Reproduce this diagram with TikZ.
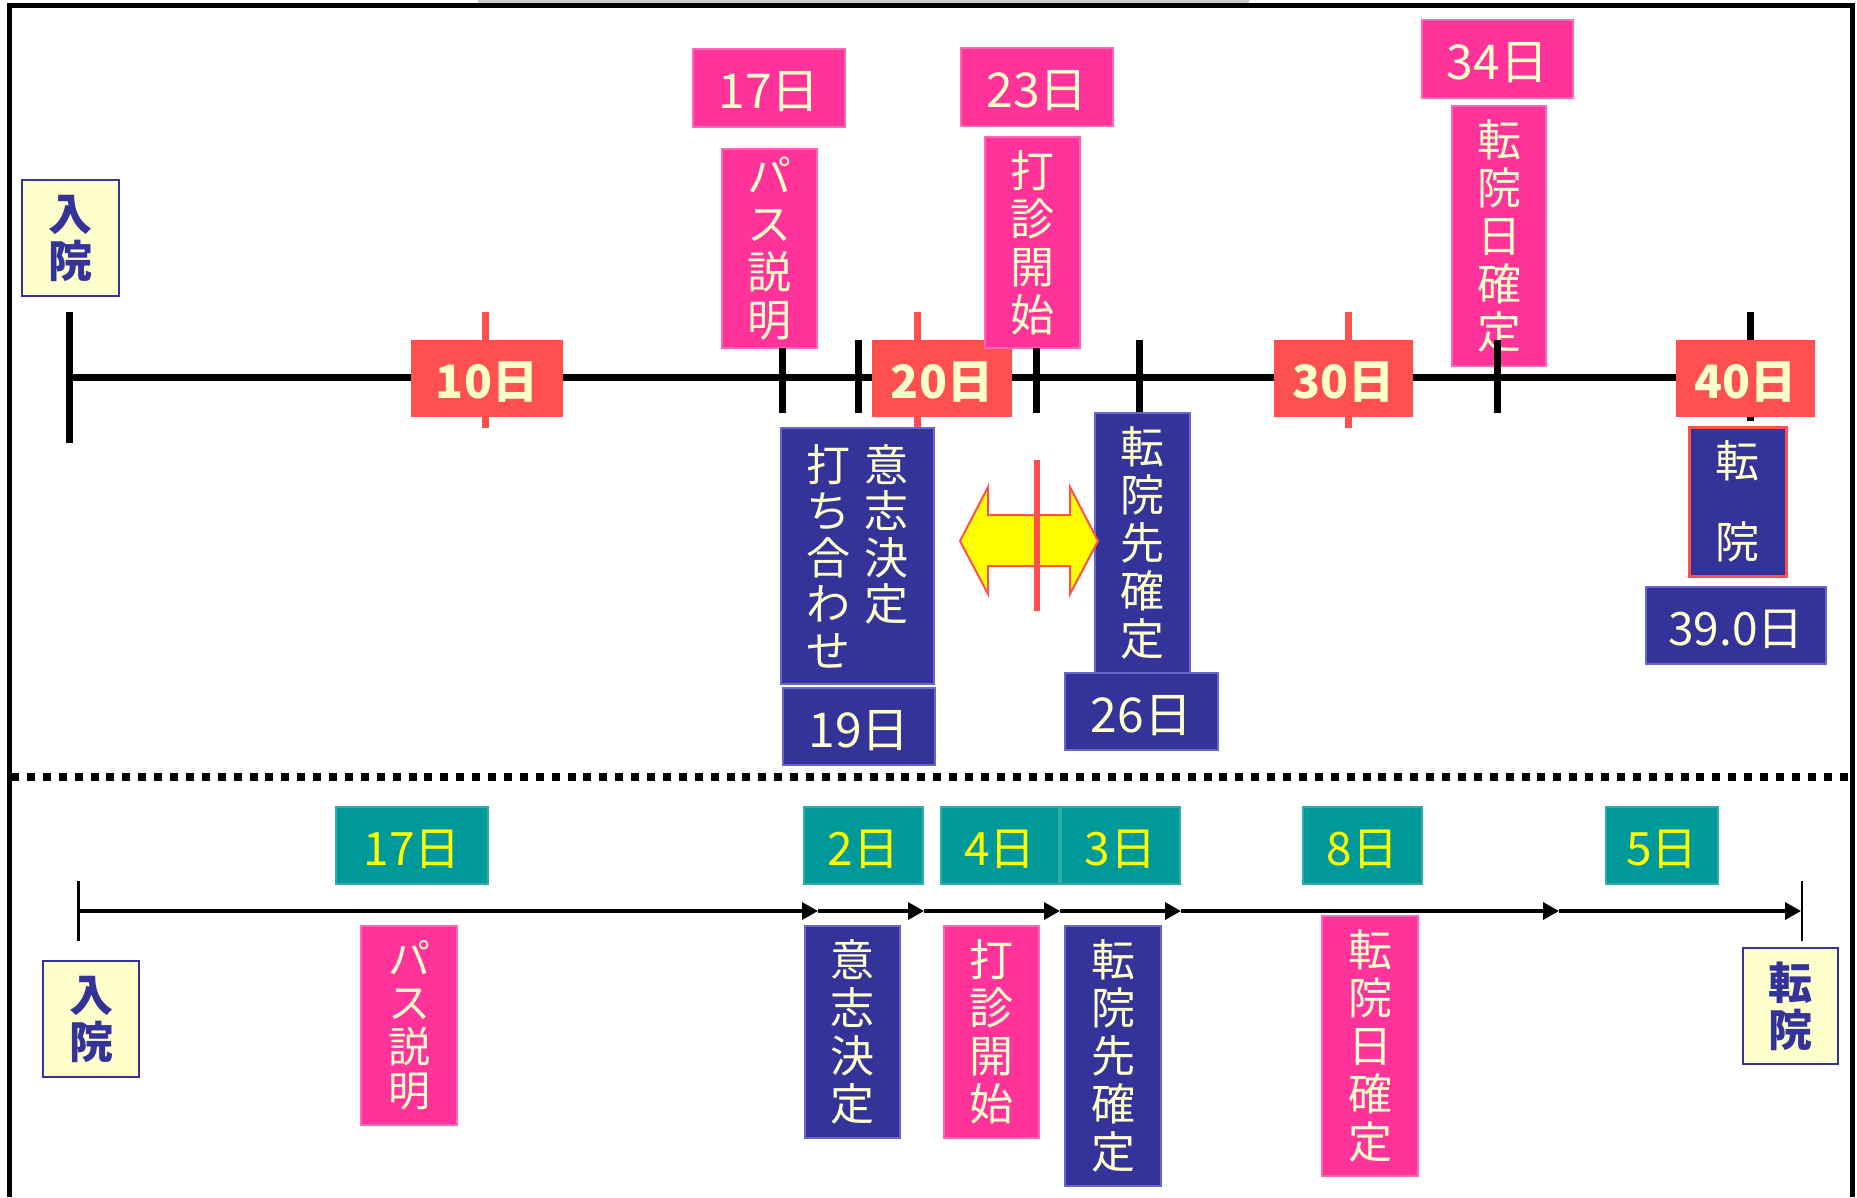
\documentclass[tikz,border=0pt]{standalone}
\usepackage{fontspec}
\setmainfont{Noto Sans CJK JP}
\usetikzlibrary{arrows.meta}
\definecolor{pinkc}{HTML}{FF3399}
\definecolor{pinkb}{HTML}{FF66B8}
\definecolor{redc}{HTML}{FF5050}
\definecolor{navyc}{HTML}{333399}
\definecolor{navyb}{HTML}{6666CC}
\definecolor{tealc}{HTML}{009999}
\definecolor{tealb}{HTML}{33AAAA}
\definecolor{creamc}{HTML}{FFFFCC}
\definecolor{yellowc}{HTML}{FFFF00}
\definecolor{grayc}{HTML}{C8C8C8}
\newcommand{\cc}[1]{\makebox[44pt]{#1}}
\tikzset{
  sz/.style 2 args={minimum width=#1pt, minimum height=#2pt},
  lbl/.style={inner sep=0pt, outer sep=0pt, align=center, font=\fontsize{44}{48}\selectfont},
  hlbl/.style={font=\fontsize{48}{50}\selectfont, text height=45pt},
  pinkbox/.style={lbl, fill=pinkc, draw=pinkb, line width=1.2pt, text=creamc},
  navybox/.style={lbl, fill=navyc, draw=navyb, line width=1.2pt, text=creamc},
  redbox/.style={lbl, fill=redc, text=creamc, font=\fontsize{46}{48}\selectfont\bfseries, text height=43pt},
  tealbox/.style={lbl, fill=tealc, draw=tealb, line width=1.2pt, text=yellowc, font=\fontsize{46}{48}\selectfont, text height=43pt},
  creambox/.style={lbl, fill=creamc, draw=navyc, line width=2.5pt, text=navyc, font=\fontsize{44}{47}\selectfont\bfseries},
  blk/.style={line width=7pt, black},
  redtick/.style={line width=7pt, redc},
  arr/.style={line width=3.5pt, -{Triangle[length=16pt,width=17pt]}},
  endtick/.style={line width=2.5pt}
}
\begin{document}
\begin{tikzpicture}[x=1pt,y=-1pt]
\useasboundingbox (0,0) rectangle (1857,1197);
\fill[white] (0,0) rectangle (1857,1197);
\fill[grayc] (478,0) rectangle (1249,3);
\draw[line width=5pt, line join=miter] (9,1197) -- (9,5.5) -- (1852,5.5) -- (1852,1197);

% ---------- top timeline ----------
\coordinate (tl0) at (69,377.5);
\coordinate (tl1) at (1750,377.5);
\draw[blk] (tl0) -- (tl1);
\draw[blk] (69,312) -- (69,443);
\draw[redtick] (485,312) -- (485,428);
\draw[redtick] (917,312) -- (917,428);
\draw[redtick] (1348,312) -- (1348,428);
\draw[blk] (1750,312) -- (1750,421);

\node[creambox, sz={97}{116}] (in1) at (70.5,238) {入\\院};

\node[redbox, sz={152}{77}] (r10) at (487,378.5) {10日};
\node[redbox, sz={140}{77}] (r20) at (942,378.5) {20日};
\node[redbox, sz={139}{77}] (r30) at (1343.5,378.5) {30日};
\node[redbox, sz={139}{77}] (r40) at (1745.5,378.5) {40日};

\node[pinkbox, hlbl, sz={152}{78}] (p17) at (769,88) {17日};
\node[pinkbox, sz={95}{199}] (ppass) at (769.5,248.5) {パ\\ス\\説\\明};
\node[pinkbox, hlbl, sz={152}{78}] (p23) at (1037,87) {23日};
\node[pinkbox, sz={95}{211}] (pdas) at (1032.5,242.5) {打\\診\\開\\始};
\node[pinkbox, hlbl, sz={151}{78}] (p34) at (1497.5,59) {34日};
\node[pinkbox, sz={94}{260}] (pten) at (1499,236) {転\\院\\日\\確\\定};

\draw[blk] (782,348) -- (782,413);
\draw[blk] (858,340) -- (858,413);
\draw[blk] (1036,348) -- (1036,413);
\draw[blk] (1139,340) -- (1139,413);
\draw[blk] (1497,340) -- (1497,413);

\node[navybox, font=\fontsize{44}{46.5}\selectfont, sz={153}{256}] (nishi) at (857.5,556)
  {\cc{打}\hspace{14pt}\cc{意}\\\cc{ち}\hspace{14pt}\cc{志}\\\cc{合}\hspace{14pt}\cc{決}\\\cc{わ}\hspace{14pt}\cc{定}\\\cc{せ}\hspace{14pt}\cc{}};
\node[navybox, hlbl, sz={152}{77}] (n19) at (859,726.5) {19日};
\node[navybox, sz={95}{260}] (nsaki) at (1142.5,543) {転\\院\\先\\確\\定};
\node[navybox, hlbl, sz={153}{77}] (n26) at (1141.5,711.5) {26日};
\node[navybox, draw=redc, line width=3pt, font=\fontsize{44}{81}\selectfont, sz={97}{149}] (nten) at (1737.5,501.5) {転\\院};
\node[navybox, font=\fontsize{46}{48}\selectfont, text height=43pt, sz={180}{77}] (n39) at (1736,625.5) {39.0日};

% double arrow
\filldraw[fill=yellowc, draw=redc, line width=2pt, line join=miter]
  (960,541) -- (988,487) -- (988,515) -- (1070,515) -- (1070,487) -- (1098,541)
  -- (1070,594) -- (1070,566) -- (988,566) -- (988,594) -- cycle;
\draw[redc, line width=6pt] (1037,460) -- (1037,611);

% separator
\coordinate (sepL) at (11,777);
\coordinate (sepR) at (1850,777);
\draw[line width=8pt, dash pattern=on 8pt off 7.9pt] (sepL) -- (sepR);

% ---------- bottom timeline ----------
\node[tealbox, sz={152}{77}] (t17) at (412,845.5) {17日};
\node[tealbox, sz={119}{77}] (t2) at (863.5,845.5) {2日};
\node[tealbox, sz={118}{77}] (t4) at (1000,845.5) {4日};
\node[tealbox, sz={119}{77}] (t3) at (1120.5,845.5) {3日};
\node[tealbox, sz={119}{77}] (t8) at (1362.5,845.5) {8日};
\node[tealbox, sz={112}{77}] (t5) at (1662,845.5) {5日};

\coordinate (a0) at (79,911);
\coordinate (a1) at (818,911);
\coordinate (a2) at (924,911);
\coordinate (a3) at (1060,911);
\coordinate (a4) at (1181,911);
\coordinate (a5) at (1559,911);
\coordinate (a6) at (1801,911);
\draw[arr] (a0) -- (a1);
\draw[arr] (a1) -- (a2);
\draw[arr] (a2) -- (a3);
\draw[arr] (a3) -- (a4);
\draw[arr] (a4) -- (a5);
\draw[arr] (a5) -- (a6);
\draw[endtick] (78.5,881) -- (78.5,941);
\draw[endtick] (1802,881) -- (1802,941);

\node[creambox, sz={96}{116}] (in2) at (91,1019) {入\\院};
\node[pinkbox, font=\fontsize{42}{44}\selectfont, sz={96}{199}] (bpass) at (409,1025.5) {パ\\ス\\説\\明};
\node[navybox, sz={95}{212}] (bishi) at (852.5,1032) {意\\志\\決\\定};
\node[pinkbox, sz={95}{212}] (bdas) at (991.5,1032) {打\\診\\開\\始};
\node[navybox, sz={96}{260}] (bsaki) at (1113,1056) {転\\院\\先\\確\\定};
\node[pinkbox, sz={96}{260}] (bten) at (1370,1046) {転\\院\\日\\確\\定};
\node[creambox, sz={95}{116}] (out2) at (1790.5,1006) {転\\院};
\end{tikzpicture}
\end{document}
